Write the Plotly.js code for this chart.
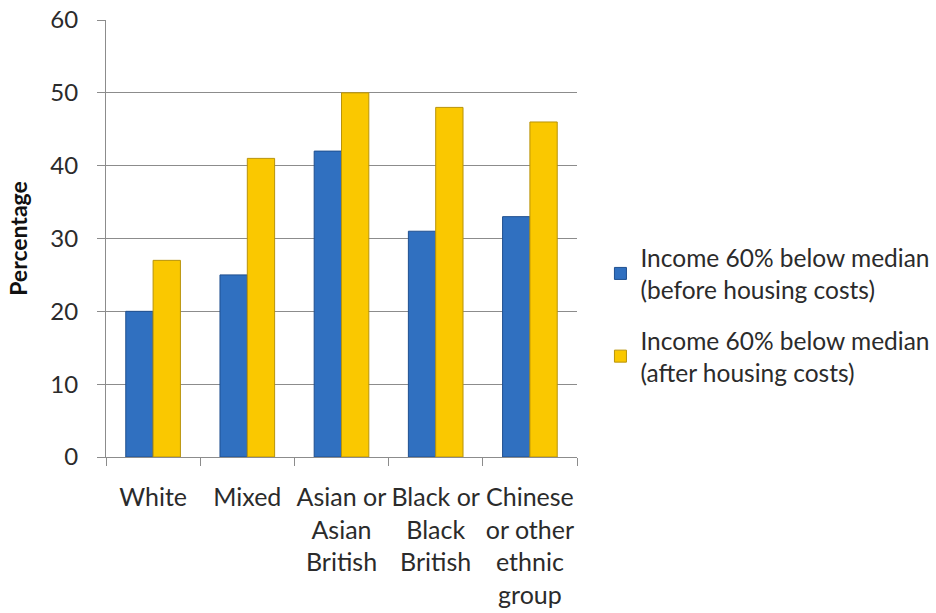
<!DOCTYPE html>
<html>
<head>
<meta charset="utf-8">
<script src="https://cdn.plot.ly/plotly-3.0.1.min.js"></script>
<style>html,body{margin:0;padding:0;background:#fff;}#chart{width:936px;height:613px;}</style>
</head>
<body>
<div id="chart"></div>
<script>
const categories = ["White", "Mixed", "Asian or<br>Asian<br>British", "Black or<br>Black<br>British", "Chinese<br>or other<br>ethnic<br>group"];
const beforeHousing = [20, 25, 42, 31, 33];
const afterHousing = [27, 41, 50, 48, 46];
const seriesNames = ["Income 60% below median<br>(before housing costs)", "Income 60% below median<br>(after housing costs)"];
const yTicks = [0, 10, 20, 30, 40, 50, 60];

const FONT = "Lato, 'Open Sans', sans-serif";
const TXT = "#2b2b2b";

const traces = [
  {
    type: "bar", x: categories, y: beforeHousing, name: seriesNames[0], legendgroup: "a",
    marker: { color: "#3070C0", line: { color: "#1f4f8f", width: 1 } }
  },
  {
    type: "bar", x: categories, y: afterHousing, name: seriesNames[1], legendgroup: "b",
    marker: { color: "#FAC800", line: { color: "#b8930a", width: 1 } }
  }
];

const layout = {
  width: 936, height: 613,
  margin: { l: 106, r: 359, t: 20, b: 156 },
  paper_bgcolor: "#fff", plot_bgcolor: "#fff",
  font: { family: FONT, color: TXT, size: 24 },
  barmode: "group", bargap: 0.42, bargroupgap: 0,
  showlegend: true,
  legend: {
    xref: "container", yref: "container",
    x: 0.6415, y: 0.486, xanchor: "left", yanchor: "middle",
    font: { family: FONT, size: 24.5, color: TXT },
    tracegroupgap: 16, bgcolor: "rgba(0,0,0,0)"
  },
  xaxis: {
    type: "category", range: [-0.5, 4.5], automargin: false,
    showline: true, linecolor: "#8c8c8c", linewidth: 1,
    ticks: "outside", tickson: "boundaries", ticklen: 8, tickcolor: "#8c8c8c",
    showgrid: false, zeroline: false, tickangle: 0,
    ticklabelstandoff: 18,
    tickfont: { family: FONT, size: 25, color: TXT }
  },
  yaxis: {
    range: [0, 60], tickvals: yTicks, ticktext: yTicks.map(String), automargin: false,
    showline: true, linecolor: "#8c8c8c", linewidth: 1,
    ticks: "outside", ticklen: 8, tickcolor: "#8c8c8c",
    showgrid: true, gridcolor: "#8c8c8c", gridwidth: 1,
    zeroline: false,
    ticklabelstandoff: 14,
    tickfont: { family: FONT, size: 24, color: TXT },
    title: { text: "<b>Percentage</b>", font: { family: FONT, size: 23, color: "#111" }, standoff: 16 }
  }
};

Plotly.newPlot("chart", traces, layout, { displayModeBar: false, staticPlot: true });
</script>
</body>
</html>
